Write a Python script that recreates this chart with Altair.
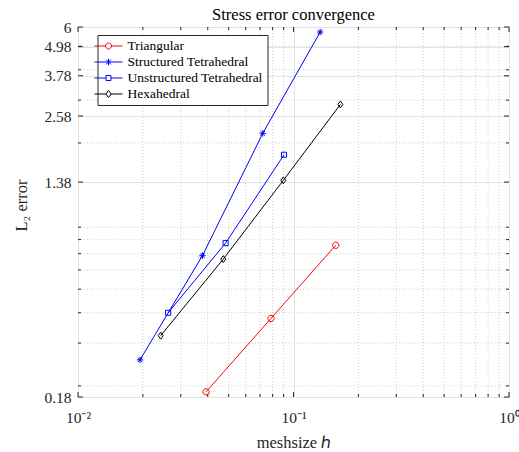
import altair as alt
import pandas as pd

# ---- data ----
chart_title = ["Stress error convergence"]
series_names = ["Triangular", "Structured Tetrahedral", "Unstructured Tetrahedral", "Hexahedral"]
series_colors = ["#ff0000", "#0000ff", "#0000ff", "#000000"]

tri_h = [0.0393, 0.0786, 0.157]
tri_e = [0.189, 0.379, 0.758]
st_h = [0.0194, 0.0378, 0.0720, 0.133]
st_e = [0.256, 0.687, 2.19, 5.72]
ut_h = [0.0262, 0.0484, 0.0904]
ut_e = [0.400, 0.774, 1.788]
hx_h = [0.0242, 0.0472, 0.0897, 0.165]
hx_e = [0.322, 0.665, 1.403, 2.88]

y_ticks = [0.18, 1.38, 2.58, 3.78, 4.98, 6]
y_minor = [0.2, 0.3, 0.4, 0.5, 0.6, 0.7, 0.8, 0.9, 2, 3, 4, 5]
x_major = [0.01, 0.1, 1]
x_minor = [0.02, 0.03, 0.04, 0.05, 0.06, 0.07, 0.08, 0.09,
           0.2, 0.3, 0.4, 0.5, 0.6, 0.7, 0.8, 0.9]

rows = []
for name, hs, es in [(series_names[0], tri_h, tri_e), (series_names[1], st_h, st_e),
                     (series_names[2], ut_h, ut_e), (series_names[3], hx_h, hx_e)]:
    for h, e in zip(hs, es):
        rows.append({"h": h, "err": e, "series": name})
df = pd.DataFrame(rows)

W, H = 431, 370
FONT = "Liberation Serif"
AX = "#262626"

xs = alt.Scale(type="log", domain=[0.01, 1], nice=False)
ys = alt.Scale(type="log", domain=[0.18, 6], nice=False)

# marker paths (unit box)
mk_paths = [
    "M1,0A1,1,0,1,1,-1,0A1,1,0,1,1,1,0",
    "M-1,0L1,0M0,-1L0,1M-0.72,-0.72L0.72,0.72M-0.72,0.72L0.72,-0.72",
    "M-0.8,-0.8L0.8,-0.8L0.8,0.8L-0.8,0.8Z",
    "M0,-1.1L0.8,0L0,1.1L-0.8,0Z",
]
lg_paths = [
    "M-2.15,0L-0.46,0M0.46,0L2.15,0M0.46,0A0.46,0.46,0,1,1,-0.46,0A0.46,0.46,0,1,1,0.46,0",
    "M-2.15,0L2.15,0M0,-0.5L0,0.5M-0.36,-0.36L0.36,0.36M-0.36,0.36L0.36,-0.36",
    "M-2.15,0L-0.38,0M0.38,0L2.15,0M-0.38,-0.38L0.38,-0.38L0.38,0.38L-0.38,0.38Z",
    "M-2.15,0L-0.4,0M0.4,0L2.15,0M0,-0.55L0.4,0L0,0.55L-0.4,0Z",
]

cscale = alt.Scale(domain=series_names, range=series_colors)

x_axis = alt.Axis(values=x_major, grid=True, gridColor="#e2e2e2", domain=False,
                  ticks=False, tickSize=0, labelPadding=25, labelBaseline="alphabetic",
                  labelExpr="datum.value < 0.05 ? '10⁻²' : (datum.value < 0.5 ? '10⁻¹' : '10⁰')",
                  labelFont=FONT, labelFontSize=15.5, labelColor=AX, labelFlush=False,
                  titleFont=FONT, titleFontSize=16.5, titleFontWeight="normal",
                  titleColor=AX, titleY=50, titleBaseline="alphabetic")
y_axis = alt.Axis(values=y_ticks, format="~g", grid=True, gridColor="#e2e2e2",
                  domain=False, ticks=False, tickSize=0, labelPadding=7,
                  labelFont=FONT, labelFontSize=15.5, labelColor=AX, labelFlush=False,
                  titleFont=FONT, titleFontSize=16.5, titleFontWeight="normal",
                  titleColor=AX, titleX=-49, titleY=178, titleBaseline="bottom")

xa = alt.X("h:Q", scale=xs, axis=x_axis, title="meshsize ℎ")
ya = alt.Y("err:Q", scale=ys, axis=y_axis, title="L₂ error")

# minor grids
gx = alt.Chart(pd.DataFrame({"h": x_minor})).mark_rule(
    color="#c4c4c4", strokeWidth=0.8, strokeDash=[1, 2]).encode(
    x=xa, y=alt.value(0), y2=alt.value(H))
gy = alt.Chart(pd.DataFrame({"err": y_minor})).mark_rule(
    color="#c4c4c4", strokeWidth=0.8, strokeDash=[1, 2]).encode(
    y=ya, x=alt.value(0), x2=alt.value(W))

lines = alt.Chart(df).mark_line(strokeWidth=1).encode(
    x=xa, y=ya,
    color=alt.Color("series:N", scale=cscale, legend=None),
    detail="series:N")

points = alt.Chart(df).mark_point(filled=False, size=40, strokeWidth=1, opacity=1).encode(
    x=xa, y=ya,
    color=alt.Color("series:N", scale=cscale, legend=None),
    shape=alt.Shape("series:N", scale=alt.Scale(domain=series_names, range=mk_paths), legend=None))

legend_layer = alt.Chart(df).mark_point(filled=False, opacity=0).encode(
    x=xa, y=ya,
    color=alt.Color("series:N", scale=cscale, title=None,
                    legend=alt.Legend(orient="none", legendX=19.5, legendY=8, title=None,
                                      strokeColor="#262626", fillColor="white", padding=4,
                                      labelFont=FONT, labelFontSize=13.5, labelColor="black",
                                      symbolSize=169, symbolOpacity=1, symbolStrokeWidth=1,
                                      rowPadding=2, labelOffset=12)),
    shape=alt.Shape("series:N", scale=alt.Scale(domain=series_names, range=lg_paths), title=None,
                    legend=alt.Legend(orient="none", legendX=19.5, legendY=8, title=None)))

# title as a text mark above the plot area
title_layer = alt.Chart(pd.DataFrame({"t": chart_title})).mark_text(
    font=FONT, fontSize=16.5, color="black", align="center", baseline="alphabetic").encode(
    text="t:N", x=alt.value(W / 2), y=alt.value(-7))

# inward ticks
def xticks(vals, ln):
    d = pd.DataFrame({"h": vals})
    b = alt.Chart(d).mark_rule(color=AX, strokeWidth=1).encode(x=xa, y=alt.value(H), y2=alt.value(H - ln))
    t = alt.Chart(d).mark_rule(color=AX, strokeWidth=1).encode(x=xa, y=alt.value(0), y2=alt.value(ln))
    return [b, t]

def yticks(vals, ln):
    d = pd.DataFrame({"err": vals})
    l = alt.Chart(d).mark_rule(color=AX, strokeWidth=1).encode(y=ya, x=alt.value(0), x2=alt.value(ln))
    r = alt.Chart(d).mark_rule(color=AX, strokeWidth=1).encode(y=ya, x=alt.value(W), x2=alt.value(W - ln))
    return [l, r]

tick_layers = xticks(x_major, 5) + xticks(x_minor, 3) + yticks(y_ticks, 5) + yticks(y_minor, 3)

chart = alt.layer(gx, gy, lines, points, legend_layer, title_layer, *tick_layers).resolve_scale(
    color="independent", shape="independent"
).properties(
    width=W, height=H,
    autosize=alt.AutoSizeParams(type="none"),
    padding={"left": 78, "top": 27, "right": 10, "bottom": 55},
).configure_view(stroke=AX, strokeWidth=1)

chart.save("out.html", embed_options={"renderer": "svg", "actions": False})
